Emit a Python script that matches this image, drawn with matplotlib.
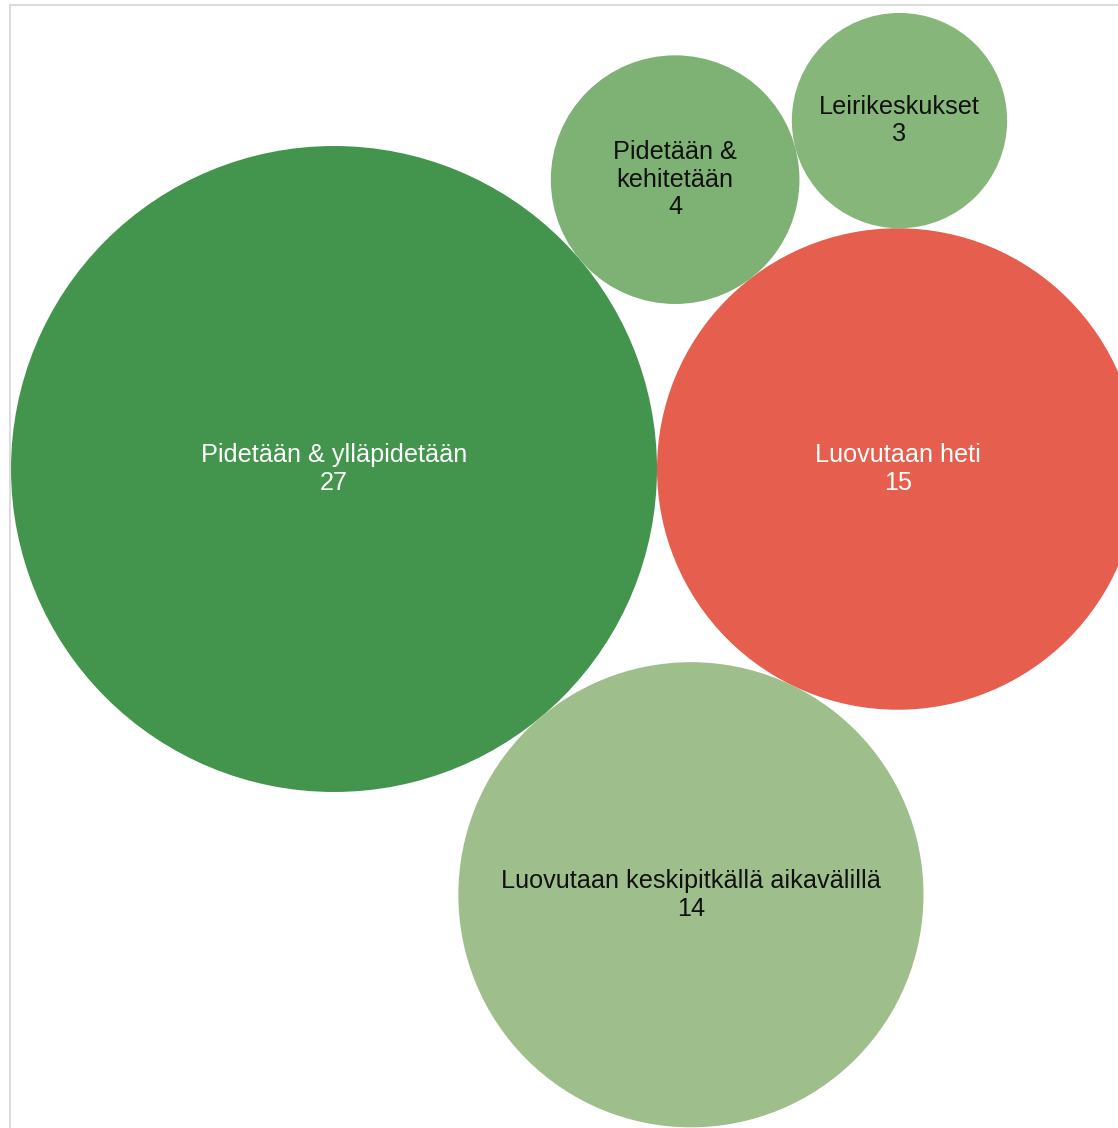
import numpy as np
import matplotlib
matplotlib.use("Agg")
import matplotlib.pyplot as plt
from matplotlib.patches import Circle
from matplotlib.lines import Line2D

# ---- data ----
labels = ["Pidetään & ylläpidetään", "Luovutaan heti",
          "Luovutaan keskipitkällä aikavälillä", "Pidetään &\nkehitetään",
          "Leirikeskukset"]
values = [27, 15, 14, 4, 3]
colors = ["#43954d", "#e55e4e", "#9ebf8b", "#7eb174", "#86b679"]
text_colors = ["white", "white", "#111111", "#111111", "#111111"]

# ---- packing (tangent placement) ----
scale = 62.16  # pixels per sqrt(unit)
radii = [scale * np.sqrt(v) for v in values]


def tangent(p, rp, q, rq, r, side):
    p = np.asarray(p, float); q = np.asarray(q, float)
    dp, dq = rp + r, rq + r
    d = np.linalg.norm(q - p)
    a = (dp ** 2 - dq ** 2 + d ** 2) / (2 * d)
    h = np.sqrt(max(dp ** 2 - a ** 2, 0))
    u = (q - p) / d
    n = np.array([-u[1], u[0]])
    base = p + a * u
    return base + side * h * n

centers = [None] * 5
centers[0] = np.array([0.0, 0.0])
centers[1] = np.array([radii[0] + radii[1], 0.0])
centers[2] = tangent(centers[0], radii[0], centers[1], radii[1], radii[2], +1)
centers[3] = tangent(centers[0], radii[0], centers[1], radii[1], radii[3], -1)
cands = [tangent(centers[1], radii[1], centers[3], radii[3], radii[4], s) for s in (1, -1)]
centers[4] = max(cands, key=lambda c: np.linalg.norm(c))

W, H = 1118, 1128
fig = plt.figure(figsize=(W / 100, H / 100), dpi=100)
ax = fig.add_axes([0, 0, 1, 1])
ox, oy = 334, 469  # view offset of the layout origin
ax.set_xlim(-ox, W - ox)
ax.set_ylim(H - oy, -oy)
ax.set_aspect("equal")
ax.axis("off")

for lab, v, c, r, col, tc in zip(labels, values, centers, radii, colors, text_colors):
    ax.add_patch(Circle(c, r, facecolor=col, edgecolor="none"))
    ax.text(c[0], c[1], f"{lab}\n{v}", ha="center", va="center", color=tc,
            fontsize=18.2, family="Liberation Sans", linespacing=1.2)

# frame lines (top and left)
fig.add_artist(Line2D([10 / W, 10 / W], [0, 1 - 5 / H], transform=fig.transFigure,
                      color="#dcdcdc", lw=1.5))
fig.add_artist(Line2D([10 / W, 1], [1 - 5 / H, 1 - 5 / H], transform=fig.transFigure,
                      color="#dcdcdc", lw=1.5))

fig.savefig("out.png", dpi=100)
